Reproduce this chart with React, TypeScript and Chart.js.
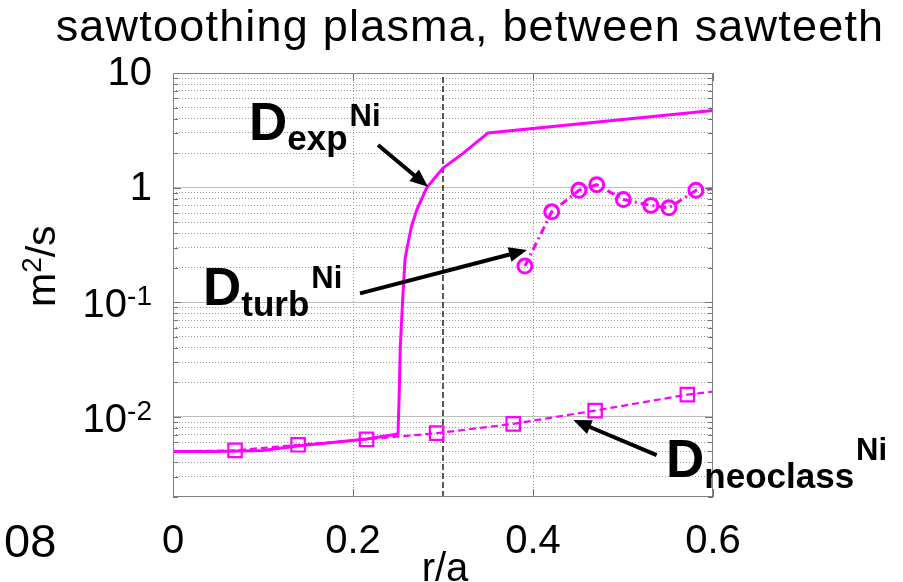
import React, { useEffect, useRef } from "react";
import { Chart, registerables } from "chart.js";

Chart.register(...registerables);

// ---------------- data ----------------
// D_exp^Ni (solid)
const expX = [0, 0.05, 0.1, 0.14, 0.18, 0.215, 0.25, 0.2512, 0.2525, 0.2552, 0.2578, 0.2597, 0.265, 0.271, 0.282, 0.3, 0.3226, 0.35, 0.6];
const expY = [0.005, 0.005, 0.0051, 0.0056, 0.006, 0.0064, 0.0071, 0.0143, 0.04, 0.106, 0.237, 0.289, 0.46, 0.644, 1.0, 1.48, 2.0, 3.0, 4.7];

// D_turb^Ni (dash-dot, circles)
const turbX = [0.391, 0.4208, 0.451, 0.4708, 0.5004, 0.531, 0.551, 0.581, 0.6];
const turbY = [0.207, 0.615, 0.947, 1.06, 0.787, 0.7, 0.666, 0.947, 0.98];
const turbMarked = [true, true, true, true, true, true, true, true, false];

// D_neoclass^Ni (dashed, squares)
const neoX = [0, 0.0689, 0.139, 0.215, 0.293, 0.378, 0.469, 0.5715, 0.6];
const neoY = [0.005, 0.0051, 0.00571, 0.00636, 0.00721, 0.00869, 0.01135, 0.01563, 0.0166];
const neoMarked = [false, true, true, true, true, true, true, true, false];

// q = 1 radius (vertical dashed line)
const qOneRadius = 0.3;

// axes
const xRange = [0, 0.6];
const yRange = [0.002, 10];
const xTickValues = [0, 0.2, 0.4, 0.6];
const xTickLabels = ["0", "0.2", "0.4", "0.6"];
const yGridValues = [
  0.002, 0.003, 0.004, 0.005, 0.006, 0.007, 0.008, 0.009,
  0.01, 0.02, 0.03, 0.04, 0.05, 0.06, 0.07, 0.08, 0.09,
  0.1, 0.2, 0.3, 0.4, 0.5, 0.6, 0.7, 0.8, 0.9,
  1, 2, 3, 4, 5, 6, 7, 8, 9, 10,
];
const yLabelValues = [0.01, 0.1, 1, 10];
const yLabelBase = ["10", "10", "1", "10"];
const yLabelExp = ["-2", "-1", "", ""];

const titleText = "sawtoothing plasma, between sawteeth";
const xTitle = "r/a";
const yTitleParts = ["m", "2", "/s"];
const strayLabel = "08";

// annotations (in data coordinates)
const annotations = [
  { main: "D", sub: "exp", sup: "Ni", x: 0.0844, y: 2.6, subDy: 10, supDy: -14 },
  { main: "D", sub: "turb", sup: "Ni", x: 0.0333, y: 0.0945, subDy: 11, supDy: -17 },
  { main: "D", sub: "neoclass", sup: "Ni", x: 0.5478, y: 0.003, subDy: 11, supDy: -17 },
];
const arrows = [
  { x0: 0.2278, y0: 2.353, x1: 0.2833, y1: 1.018 },
  { x0: 0.2078, y0: 0.1196, x1: 0.3933, y1: 0.2855 },
  { x0: 0.5374, y0: 0.00464, x1: 0.4448, y1: 0.00938 },
];

// ---------------- styling ----------------
const MAGENTA = "#ff00ff";
const FAMILY = '"Liberation Sans", Arial, Helvetica, sans-serif';

const isDecade = (v: number) => Math.abs(Math.log10(v) - Math.round(Math.log10(v))) < 1e-6;

const toPts = (xs: number[], ys: number[]) => xs.map((x, i) => ({ x, y: ys[i] }));

const overlayPlugin = {
  id: "overlay",
  afterDraw(chart: any) {
    const { ctx, chartArea: ca, scales } = chart;
    const xs = scales.x;
    const ys = scales.y;
    ctx.save();

    // inner tick marks
    ctx.strokeStyle = "#707070";
    ctx.lineWidth = 1;
    ctx.setLineDash([]);
    ctx.beginPath();
    for (const v of yGridValues) {
      const py = Math.round(ys.getPixelForValue(v)) + 0.5;
      const len = isDecade(v) ? 8 : 5;
      ctx.moveTo(ca.left, py);
      ctx.lineTo(ca.left + len, py);
      ctx.moveTo(ca.right, py);
      ctx.lineTo(ca.right - len, py);
    }
    for (const v of xTickValues) {
      const px = Math.round(xs.getPixelForValue(v)) + 0.5;
      ctx.moveTo(px, ca.bottom);
      ctx.lineTo(px, ca.bottom - 8);
      ctx.moveTo(px, ca.top);
      ctx.lineTo(px, ca.top + 8);
    }
    ctx.stroke();

    // box
    ctx.strokeStyle = "#808080";
    ctx.strokeRect(ca.left + 0.5, ca.top + 0.5, ca.right - ca.left - 1, ca.bottom - ca.top - 1);

    ctx.fillStyle = "#000";
    ctx.textBaseline = "alphabetic";

    // y tick labels (10^n)
    const rightEdge = ca.left - 21;
    for (let i = 0; i < yLabelValues.length; i++) {
      const py = ys.getPixelForValue(yLabelValues[i]);
      const base = yLabelBase[i];
      const ex = yLabelExp[i];
      ctx.font = `40px ${FAMILY}`;
      const bw = ctx.measureText(base).width;
      ctx.font = `28px ${FAMILY}`;
      const ew = ex ? ctx.measureText(ex).width : 0;
      const x0 = rightEdge - bw - ew;
      const by = py + (ex ? 15 : 12);
      ctx.font = `40px ${FAMILY}`;
      ctx.textAlign = "left";
      ctx.fillText(base, x0, by);
      if (ex) {
        ctx.font = `28px ${FAMILY}`;
        ctx.fillText(ex, x0 + bw, by - 12);
      }
    }

    // title
    ctx.font = `45px ${FAMILY}`;
    ctx.textAlign = "center";
    try {
      (ctx as any).letterSpacing = "1.2px";
    } catch (e) {}
    ctx.fillText(titleText, 470, 41);
    try {
      (ctx as any).letterSpacing = "0px";
    } catch (e) {}

    // x title
    ctx.font = `40px ${FAMILY}`;
    ctx.fillText(xTitle, (ca.left + ca.right) / 2 + 2, 581);

    // stray label
    ctx.textAlign = "left";
    ctx.font = `47px ${FAMILY}`;
    ctx.fillText(strayLabel, 4, 557);

    // y title (rotated)
    ctx.save();
    ctx.translate(55, 307);
    ctx.rotate(-Math.PI / 2);
    ctx.textAlign = "left";
    ctx.font = `41px ${FAMILY}`;
    let cx = 0;
    ctx.fillText(yTitleParts[0], cx, 0);
    cx += ctx.measureText(yTitleParts[0]).width;
    ctx.font = `28px ${FAMILY}`;
    ctx.fillText(yTitleParts[1], cx, -14);
    cx += ctx.measureText(yTitleParts[1]).width;
    ctx.font = `41px ${FAMILY}`;
    ctx.fillText(yTitleParts[2], cx, 0);
    ctx.restore();

    // arrows
    ctx.fillStyle = "#000";
    ctx.strokeStyle = "#000";
    for (const a of arrows) {
      const tx = xs.getPixelForValue(a.x0);
      const ty = ys.getPixelForValue(a.y0);
      const hx = xs.getPixelForValue(a.x1);
      const hy = ys.getPixelForValue(a.y1);
      const dx = hx - tx;
      const dy = hy - ty;
      const len = Math.hypot(dx, dy);
      const ux = dx / len;
      const uy = dy / len;
      const headL = 18;
      const headW = 15;
      const bx = hx - ux * headL;
      const by = hy - uy * headL;
      ctx.lineWidth = 4;
      ctx.lineCap = "butt";
      ctx.beginPath();
      ctx.moveTo(tx, ty);
      ctx.lineTo(bx + ux * 2, by + uy * 2);
      ctx.stroke();
      ctx.beginPath();
      ctx.moveTo(hx, hy);
      ctx.lineTo(bx - uy * headW / 2, by + ux * headW / 2);
      ctx.lineTo(bx + uy * headW / 2, by - ux * headW / 2);
      ctx.closePath();
      ctx.fill();
    }

    // annotation labels
    ctx.textAlign = "left";
    for (const a of annotations) {
      const px = xs.getPixelForValue(a.x);
      const py = ys.getPixelForValue(a.y);
      ctx.font = `bold 53px ${FAMILY}`;
      ctx.fillText(a.main, px, py);
      const w1 = ctx.measureText(a.main).width;
      ctx.font = `bold 35px ${FAMILY}`;
      ctx.fillText(a.sub, px + w1, py + a.subDy);
      const w2 = ctx.measureText(a.sub).width;
      ctx.font = `bold 31px ${FAMILY}`;
      ctx.fillText(a.sup, px + w1 + w2 + 2, py + a.supDy);
    }

    ctx.restore();
  },
};

export default function App() {
  const ref = useRef<HTMLCanvasElement>(null);

  useEffect(() => {
    document.body.style.margin = "0";
    const canvas = ref.current;
    if (!canvas) return;
    const chart = new Chart(canvas, {
      type: "line",
      data: {
        datasets: [
          {
            label: "D_exp",
            data: toPts(expX, expY),
            borderColor: MAGENTA,
            borderWidth: 3,
            pointRadius: 0,
            pointHoverRadius: 0,
            fill: false,
            tension: 0,
            order: 1,
          },
          {
            label: "D_turb",
            data: toPts(turbX, turbY),
            borderColor: MAGENTA,
            borderWidth: 3,
            borderDash: [8, 4, 2, 4],
            pointStyle: "circle",
            pointRadius: turbMarked.map((m) => (m ? 7 : 0)),
            pointHoverRadius: 0,
            pointBorderColor: MAGENTA,
            pointBackgroundColor: "rgba(0,0,0,0)",
            pointBorderWidth: 3,
            fill: false,
            tension: 0,
            order: 2,
          },
          {
            label: "D_neoclass",
            data: toPts(neoX, neoY),
            borderColor: MAGENTA,
            borderWidth: 2.2,
            borderDash: [7, 4],
            pointStyle: "rect",
            pointRadius: neoMarked.map((m) => (m ? 9.5 : 0)),
            pointHoverRadius: 0,
            pointBorderColor: MAGENTA,
            pointBackgroundColor: "rgba(0,0,0,0)",
            pointBorderWidth: 2.2,
            fill: false,
            tension: 0,
            order: 3,
          },
          {
            label: "q=1",
            data: [
              { x: qOneRadius, y: yRange[0] },
              { x: qOneRadius, y: yRange[1] },
            ],
            borderColor: "#000",
            borderWidth: 1.3,
            borderDash: [6, 3],
            pointRadius: 0,
            pointHoverRadius: 0,
            fill: false,
            order: 4,
          },
        ],
      },
      options: {
        responsive: false,
        animation: false,
        devicePixelRatio: 1,
        events: [],
        layout: { padding: { left: 0, right: 190, top: 73, bottom: 0 } },
        plugins: {
          legend: { display: false },
          tooltip: { enabled: false },
          title: { display: false },
        },
        scales: {
          x: {
            type: "linear",
            min: xRange[0],
            max: xRange[1],
            afterBuildTicks: (s: any) => {
              s.ticks = xTickValues.map((v) => ({ value: v }));
            },
            afterFit: (s: any) => {
              s.height = 85;
            },
            ticks: {
              autoSkip: false,
              maxRotation: 0,
              padding: 21,
              color: "#000",
              font: { size: 40, family: FAMILY },
              callback: (_v: any, i: number) => xTickLabels[i],
            },
            grid: {
              drawTicks: false,
              lineWidth: 1,
              color: (c: any) => {
                const v = c.tick ? c.tick.value : 0;
                return v <= xRange[0] + 1e-9 || v >= xRange[1] - 1e-9 ? "rgba(0,0,0,0)" : "#9a9a9a";
              },
            },
            border: { display: false, dash: [1, 2] },
          },
          y: {
            type: "logarithmic",
            min: yRange[0],
            max: yRange[1],
            afterBuildTicks: (s: any) => {
              s.ticks = yGridValues.map((v) => ({ value: v, major: isDecade(v) }));
            },
            afterFit: (s: any) => {
              s.width = 173;
            },
            ticks: { display: false },
            grid: {
              drawTicks: false,
              lineWidth: 1,
              color: (c: any) => {
                const v = c.tick ? c.tick.value : 1;
                if (v <= yRange[0] * 1.0001 || v >= yRange[1] * 0.9999) return "rgba(0,0,0,0)";
                return isDecade(v) ? "#bdbdbd" : "#9a9a9a";
              },
            },
            border: {
              display: false,
              dash: (c: any) => {
                const v = c.tick ? c.tick.value : 1;
                return isDecade(v) ? [] : [1, 2];
              },
            },
          },
        },
      },
      plugins: [overlayPlugin],
    } as any);
    return () => chart.destroy();
  }, []);

  return (
    <div style={{ position: "fixed", left: 0, top: 0, width: 903, height: 582, background: "#fff" }}>
      <canvas ref={ref} width={903} height={582} style={{ display: "block", width: 903, height: 582 }} />
    </div>
  );
}
